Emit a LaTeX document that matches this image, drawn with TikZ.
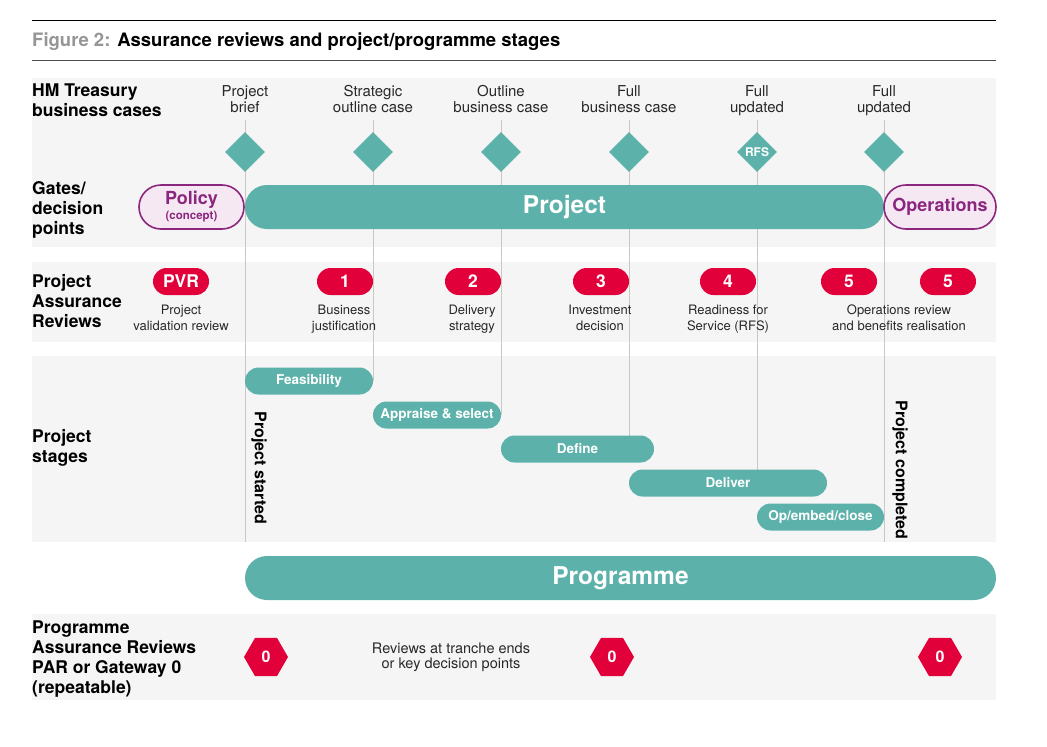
\documentclass[tikz,border=0pt]{standalone}
\usepackage{fontspec}
\setmainfont{TeX Gyre Heros}
\usetikzlibrary{shapes.geometric,shapes.misc}
\definecolor{teal}{RGB}{92,178,170}
\definecolor{crimson}{RGB}{226,0,58}
\definecolor{purp}{RGB}{139,38,126}
\definecolor{pinkfill}{RGB}{245,232,243}
\definecolor{bandgray}{RGB}{245,245,245}
\definecolor{linegray}{RGB}{200,200,200}
\definecolor{titlegray}{RGB}{150,150,150}
\definecolor{txt}{RGB}{40,40,40}
\pgfdeclarelayer{bg}
\pgfdeclarelayer{mid}
\pgfsetlayers{bg,mid,main}
\begin{document}
\begin{tikzpicture}[x=1pt,y=-1pt,
  band/.style={fill=bandgray,draw=none},
  vline/.style={draw=linegray,line width=1pt},
  side/.style={anchor=base west,align=left,inner sep=0pt,font=\bfseries\fontsize{17.5}{20}\selectfont},
  bc/.style={anchor=base,align=center,inner sep=0pt,text=txt,font=\fontsize{15}{16}\selectfont},
  gate/.style={diamond,fill=teal,minimum width=40pt,minimum height=40pt,inner sep=0pt,text=white,font=\bfseries\fontsize{12}{12}\selectfont},
  bigpill/.style={rounded rectangle,fill=teal,minimum height=44pt,inner sep=0pt,text=white,font=\bfseries\fontsize{24.5}{26}\selectfont},
  outpill/.style={rounded rectangle,draw=purp,line width=1.6pt,fill=pinkfill,minimum height=44pt,inner sep=0pt,text=purp,align=center,font=\bfseries\fontsize{18}{16}\selectfont},
  rpill/.style={rounded rectangle,fill=crimson,minimum width=56pt,minimum height=27pt,inner sep=0pt,text=white,font=\bfseries\fontsize{17.5}{18}\selectfont},
  rlabel/.style={anchor=base,align=center,inner sep=0pt,text=txt,font=\fontsize{13}{16}\selectfont},
  stagebox/.style={rounded rectangle,fill=teal,minimum height=27pt,inner sep=0pt,text=white,font=\bfseries\fontsize{13.5}{14}\selectfont},
  hex/.style={regular polygon,regular polygon sides=6,fill=crimson,minimum size=44pt,inner sep=0pt,text=white,font=\bfseries\fontsize{16}{16}\selectfont},
  vtext/.style={rotate=-90,inner sep=0pt,font=\bfseries\fontsize{16}{16}\selectfont}]
\useasboundingbox (0,0) rectangle (1047,747);

% bands
\begin{pgfonlayer}{bg}
\fill[white] (0,0) rectangle (1047,747);
\fill[band] (32,78) rectangle (996,247);
\fill[band] (32,262) rectangle (996,342);
\fill[band] (32,356) rectangle (996,542);
\fill[band] (32,614) rectangle (996,700);
\end{pgfonlayer}

% title
\draw[black,line width=1pt] (32,20) -- (996,20);
\draw[black!70,line width=1pt] (32,60) -- (996,60);
\node[anchor=base west,inner sep=0pt,font=\bfseries\fontsize{18.5}{19}\selectfont] (title) at (32,46)
  {{\color{titlegray}Figure 2:} Assurance reviews and project/programme stages};

% side labels (y = baseline of last line)
\node[side] (s1) at (32,116) {HM Treasury\\business cases};
\node[side] (s2) at (32,234) {Gates/\\decision\\points};
\node[side] (s3) at (32,327) {Project\\Assurance\\Reviews};
\node[side] (s4) at (32,462) {Project\\stages};
\node[side] (s5) at (32,693) {Programme\\Assurance Reviews\\PAR or Gateway 0\\(repeatable)};

% business case labels
\node[bc] (bc1) at (245,112.5) {Project\\brief};
\node[bc] (bc2) at (373,112.5) {Strategic\\outline case};
\node[bc] (bc3) at (501,112.5) {Outline\\business case};
\node[bc] (bc4) at (629,112.5) {Full\\business case};
\node[bc] (bc5) at (757,112.5) {Full\\updated};
\node[bc] (bc6) at (884,112.5) {Full\\updated};

% line anchors
\coordinate (t1) at (245,120);
\coordinate (t2) at (373,120);
\coordinate (t3) at (501,120);
\coordinate (t4) at (629,120);
\coordinate (t5) at (757,120);
\coordinate (t6) at (884,120);
\coordinate (e1) at (245,542);
\coordinate (e6) at (884,542);

% gates
\node[gate] (g1) at (245,152) {};
\node[gate] (g2) at (373,152) {};
\node[gate] (g3) at (501,152) {};
\node[gate] (g4) at (629,152) {};
\node[gate] (g5) at (757,152) {RFS};
\node[gate] (g6) at (884,152) {};

% project row
\node[outpill,minimum width=105pt] (policy) at (191.5,207) {Policy\\[-1pt]{\fontsize{11.5}{12}\selectfont(concept)}};
\node[bigpill,minimum width=639pt] (project) at (564.5,207) {Project};
\node[outpill,minimum width=112pt] (ops) at (940,207) {Operations};

% reviews
\node[rpill] (pvr) at (181,281.5) {PVR};
\node[rpill] (r1) at (345,281.5) {1};
\node[rpill] (r2) at (473,281.5) {2};
\node[rpill] (r3) at (601,281.5) {3};
\node[rpill] (r4) at (728,281.5) {4};
\node[rpill] (r5a) at (849,281.5) {5};
\node[rpill] (r5b) at (948,281.5) {5};
\node[rlabel] (lpvr) at (181,330) {Project\\validation review};
\node[rlabel] (l1) at (344,330) {Business\\justification};
\node[rlabel] (l2) at (472,330) {Delivery\\strategy};
\node[rlabel] (l3) at (600,330) {Investment\\decision};
\node[rlabel] (l4) at (728,330) {Readiness for\\Service (RFS)};
\node[rlabel] (l5) at (899,330) {Operations review\\and benefits realisation};

% stages
\node[stagebox,minimum width=128pt] (fea) at (309,381) {Feasibility};
\node[stagebox,minimum width=128pt] (app) at (437,415) {Appraise \& select};
\node[stagebox,minimum width=153pt] (def) at (577.5,449) {Define};
\node[stagebox,minimum width=198pt] (del) at (728,483) {Deliver};
\node[stagebox,minimum width=127pt] (op) at (820.5,517) {Op/embed/close};
\node[vtext] (pstart) at (259,468) {Project started};
\node[vtext] (pend) at (900,470) {Project completed};

% programme
\node[bigpill,minimum width=751pt] (prog) at (620.5,578) {Programme};
\node[hex] (h1) at (266,657) {0};
\node[hex] (h2) at (612,657) {0};
\node[hex] (h3) at (940,657) {0};
\node[anchor=base,align=center,inner sep=0pt,text=txt,font=\fontsize{14.5}{15}\selectfont] (tranche) at (451,668) {Reviews at tranche ends\\or key decision points};

% vertical lines
\begin{pgfonlayer}{mid}
\draw[vline] (t1) -- (e1);
\draw[vline] (t2) -- (t2 |- fea.center);
\draw[vline] (t3) -- (t3 |- app.center);
\draw[vline] (t4) -- (t4 |- def.center);
\draw[vline] (t5) -- (t5 |- del.center);
\draw[vline] (t6) -- (e6);
\end{pgfonlayer}
\end{tikzpicture}
\end{document}
